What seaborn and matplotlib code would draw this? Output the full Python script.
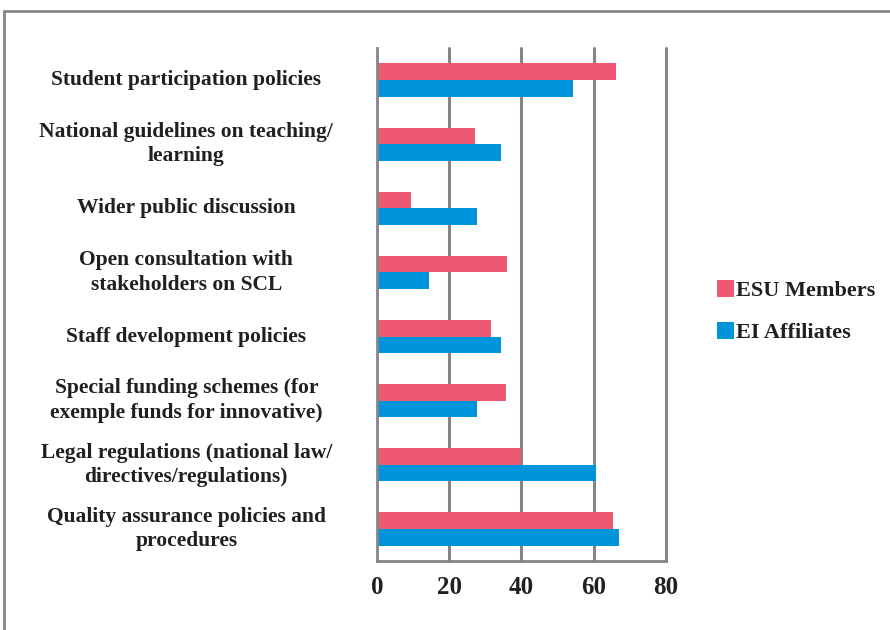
import matplotlib.pyplot as plt
import matplotlib.transforms as mtransforms
from matplotlib.lines import Line2D
from matplotlib.patches import Patch
import pandas as pd
import seaborn as sns

sns.set_theme(style="white")
plt.rcParams['font.family'] = ['Liberation Serif', 'DejaVu Serif']

categorias = [
    'Student participation policies',
    'National guidelines on teaching/\nlearning',
    'Wider public discussion',
    'Open consultation with\nstakeholders on SCL',
    'Staff development policies',
    'Special funding schemes (for\nexemple funds for innovative)',
    'Legal regulations (national law/\ndirectives/regulations)',
    'Quality assurance policies and\nprocedures',
]
esu_members = [66.2, 27.0, 9.5, 35.9, 31.5, 35.7, 39.9, 65.4]
ei_affiliates = [54.3, 34.3, 27.6, 14.3, 34.3, 27.6, 60.5, 67.0]
series = ['ESU Members', 'EI Affiliates']
cores = {'ESU Members': '#EF5872', 'EI Affiliates': '#0095DA'}
xticks = [0, 20, 40, 60, 80]

df = pd.DataFrame({
    'categoria': categorias * 2,
    'valor': esu_members + ei_affiliates,
    'serie': [series[0]] * len(categorias) + [series[1]] * len(categorias),
})

cinza = '#858585'
fig = plt.figure(figsize=(8.9, 6.3), dpi=100)
ax = fig.add_axes([0.4236, 0.1095, 0.3247, 0.8143])

sns.barplot(data=df, y='categoria', x='valor', hue='serie', order=categorias,
            hue_order=series, palette=cores, width=0.52, orient='h',
            saturation=1, linewidth=0, ax=ax, legend=False)

ax.set_xlim(0, 80)
ax.set_ylim(len(categorias) - 0.5, -0.5)
ax.set_xticks(xticks)
ax.set_xticklabels([str(v) for v in xticks], fontsize=18, fontweight='bold',
                   color='#231F20')
ax.set_yticks([i - 0.5 for i in range(len(categorias) + 1)])
ax.set_yticklabels([])
ax.tick_params(axis='x', direction='out', length=6, width=2, color=cinza, pad=5)
ax.tick_params(axis='y', direction='out', length=6, width=2, color=cinza)
ax.set_xlabel('')
ax.set_ylabel('')

for v in xticks[1:]:
    ax.axvline(v, color=cinza, linewidth=2.2, zorder=0, clip_on=False)
for lado in ['top', 'right']:
    ax.spines[lado].set_visible(False)
for lado in ['left', 'bottom']:
    ax.spines[lado].set_color(cinza)
    ax.spines[lado].set_linewidth(2)

trans = mtransforms.blended_transform_factory(ax.transAxes, ax.transData)
for i, cat in enumerate(categorias):
    ax.text(-0.66, i, cat, transform=trans, ha='center', va='center',
            multialignment='center', fontsize=15.5, fontweight='bold',
            color='#231F20', linespacing=1.3)

handles = [Patch(facecolor=cores[s], edgecolor='none') for s in series]
fig.legend(handles, series, loc='center left', bbox_to_anchor=(0.783, 0.505),
           frameon=False, prop={'size': 16, 'weight': 'bold'},
           handlelength=0.75, handleheight=0.75, handletextpad=0.1,
           labelspacing=0.95, labelcolor='#231F20')

# moldura externa
fig.add_artist(Line2D([4 / 890, 4 / 890], [0, 1 - 11 / 630],
                      transform=fig.transFigure, color=cinza, linewidth=2))
fig.add_artist(Line2D([4 / 890, 1], [1 - 11 / 630, 1 - 11 / 630],
                      transform=fig.transFigure, color=cinza, linewidth=2))

fig.savefig('out.png', dpi=100)
